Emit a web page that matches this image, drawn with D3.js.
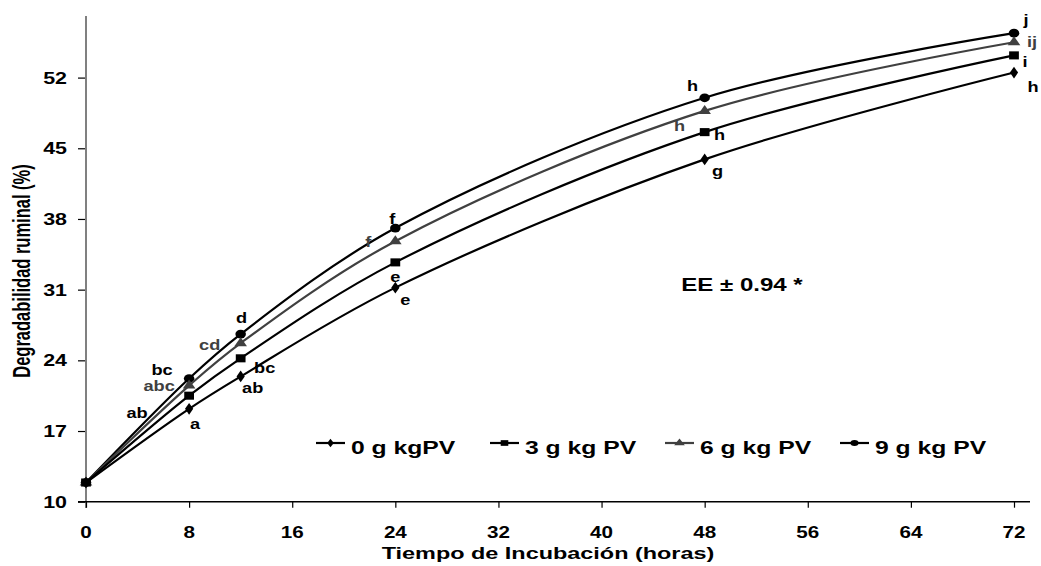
<!DOCTYPE html>
<html><head><meta charset="utf-8">
<script src="https://cdn.jsdelivr.net/npm/d3@7"></script>
<style>body{margin:0;background:#fff}svg{display:block}text{font-family:"Liberation Sans",Arial,sans-serif;font-weight:bold}</style>
</head><body><svg id="c" width="1041" height="566"></svg>
<script>
// ---- data ----
const hours = [0, 8, 12, 24, 48, 72];
const xTicks = [0, 8, 16, 24, 32, 40, 48, 56, 64, 72];
const yTicks = [10, 17, 24, 31, 38, 45, 52];
const seriesNames = ["0 g kgPV", "3 g kg PV", "6 g kg PV", "9 g kg PV"];
const s0 = [11.9, 19.2, 22.4, 31.2, 43.9, 52.5];
const s3 = [11.9, 20.5, 24.2, 33.7, 46.6, 54.2];
const s6 = [11.9, 21.5, 25.7, 35.8, 48.7, 55.5];
const s9 = [11.9, 22.2, 26.6, 37.1, 50.0, 56.4];
const lab0 = ["", "a", "ab", "e", "g", "h"];
const lab3 = ["", "ab", "bc", "e", "h", "i"];
const lab6 = ["", "abc", "cd", "f", "h", "ij"];
const lab9 = ["", "bc", "d", "f", "h", "j"];
const eeText = "EE ± 0.94 *";
const xTitle = "Tiempo de Incubación (horas)";
const yTitle = "Degradabilidad ruminal  (%)";

// ---- layout / style ----
const off0 = [null, [6, 20], [12, 17], [10, 17], [13, 17], [19, 19]];
const off3 = [null, [-52, 22], [24, 15], [0, 20], [15, 8], [11, 12]];
const off6 = [null, [-30, 5], [-31, 7], [-27, 6], [-25, 20], [18, 5]];
const off9 = [null, [-27, -4], [1, -11], [-3, -4], [-12, -7], [12, -8]];

const svg = d3.select("#c");
const x = d3.scaleLinear().domain([0, 72]).range([86, 1014]);
const y = d3.scaleLinear().domain([10, 58.1]).range([501.7, 16]);

function stext(g, str, px, py, fs, anchor, sx, color) {
  return g.append("text").attr("transform", `translate(${px},${py}) scale(${sx},1)`)
    .attr("text-anchor", anchor).attr("font-size", fs).attr("fill", color || "#000").text(str);
}

// axes
const yAxis = d3.axisLeft(y).tickValues(yTicks).tickSize(8).tickFormat("");
const gy = svg.append("g").attr("transform", "translate(86,0)").call(yAxis);
gy.select(".domain").remove();
gy.selectAll(".tick line").attr("stroke", "#000").attr("stroke-width", 1.2);
svg.append("line").attr("x1", 86).attr("x2", 86).attr("y1", 16).attr("y2", 508).attr("stroke", "#808080").attr("stroke-width", 2);
yTicks.forEach(v => stext(svg, v, 67, y(v) + 6, 16.5, "end", 1.3));

const xAxis = d3.axisBottom(x).tickValues(xTicks).tickSize(6).tickFormat("");
const gx = svg.append("g").attr("transform", "translate(0,501.7)").call(xAxis);
gx.select(".domain").remove();
gx.selectAll(".tick line").attr("stroke", "#000").attr("stroke-width", 1.2);
svg.append("line").attr("x1", 78).attr("x2", 1030).attr("y1", 501.7).attr("y2", 501.7).attr("stroke", "#000").attr("stroke-width", 1.5);
xTicks.forEach(v => stext(svg, v, x(v), 538, 16.5, "middle", 1.25));

// titles
stext(svg, xTitle, 548, 559, 16.5, "middle", 1.42);
svg.append("text").attr("transform", "translate(30,271) scale(1.5,1) rotate(-90)")
  .attr("text-anchor", "middle").attr("font-size", 16.5).text(yTitle);
stext(svg, eeText, 742, 291, 18.5, "middle", 1.3);

// series
const series = [
  {vals: s0, labs: lab0, offs: off0, color: "#000", labColor: "#000", shape: d3.symbolDiamond, size: 44, legSize: 26},
  {vals: s3, labs: lab3, offs: off3, color: "#000", labColor: "#000", shape: d3.symbolSquare, size: 72, legSize: 40},
  {vals: s6, labs: lab6, offs: off6, color: "#404040", labColor: "#404040", shape: d3.symbolTriangle, size: 52, legSize: 34},
  {vals: s9, labs: lab9, offs: off9, color: "#000", labColor: "#000", shape: d3.symbolCircle, size: 66, legSize: 36}
];
const line = d3.line().x((d, i) => x(hours[i])).y(d => y(d)).curve(d3.curveCatmullRom.alpha(0.5));
const order = [3, 2, 0, 1];
order.forEach(k => {
  const s = series[k];
  const g = svg.append("g");
  g.append("path").attr("d", line(s.vals)).attr("fill", "none").attr("stroke", s.color).attr("stroke-width", 2.2);
  g.selectAll("path.m").data(s.vals).join("path").attr("class", "m")
    .attr("transform", (d, i) => `translate(${x(hours[i])},${y(d)}) scale(1.15,0.95)`)
    .attr("d", d3.symbol().type(s.shape).size(s.size)).attr("fill", s.color);
});
series.forEach(s => {
  s.vals.forEach((v, i) => {
    if (!s.labs[i]) return;
    const o = s.offs[i];
    stext(svg, s.labs[i], x(hours[i]) + o[0], y(v) + o[1], 14, "middle", 1.3, s.labColor);
  });
});

// legend
const legX = [316, 490, 665, 840];
series.forEach((s, k) => {
  const lx = legX[k], ly = 443;
  svg.append("line").attr("x1", lx).attr("x2", lx + 29).attr("y1", ly).attr("y2", ly).attr("stroke", s.color).attr("stroke-width", 2.2);
  svg.append("path").attr("transform", `translate(${lx + 14.5},${ly}) scale(1.2,0.9)`)
    .attr("d", d3.symbol().type(s.shape).size(s.legSize)).attr("fill", s.color);
  stext(svg, seriesNames[k], lx + 35, ly + 11, 19, "start", 1.3);
});
</script></body></html>
